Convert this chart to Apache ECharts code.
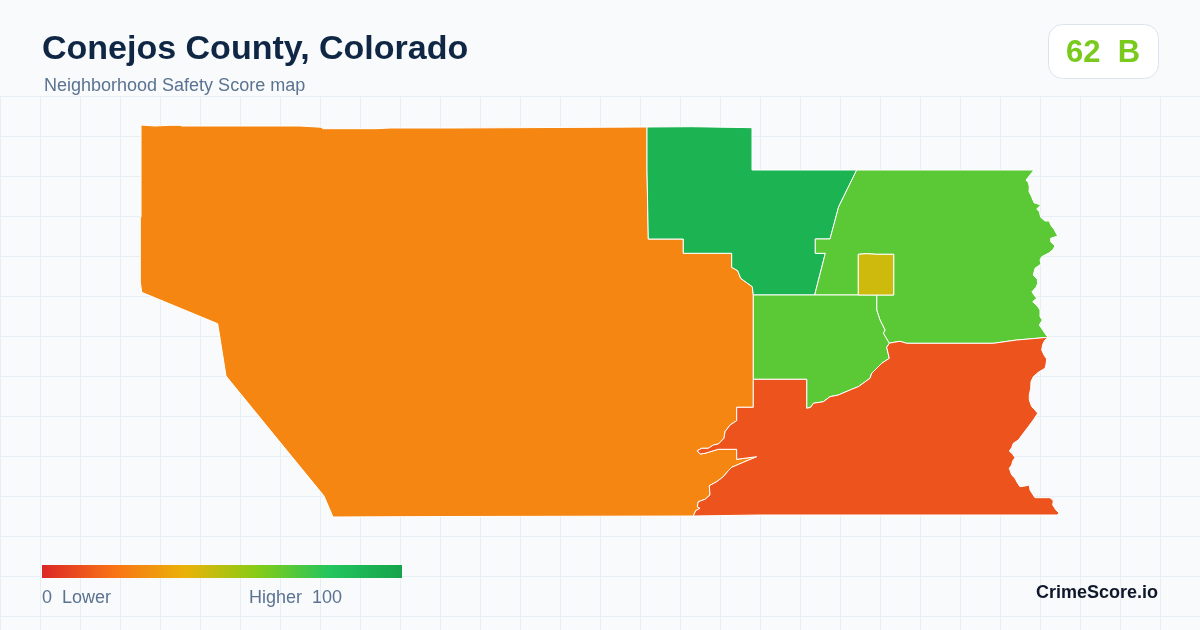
<!DOCTYPE html>
<html><head><meta charset="utf-8">
<style>
html,body{margin:0;padding:0;width:1200px;height:630px;overflow:hidden;background:#f8fafc}
#grid{position:absolute;left:0;top:96px;width:1200px;height:534px;
background-image:linear-gradient(to right,#e8eff4 1px,transparent 1px),linear-gradient(to bottom,#e8eff4 1px,transparent 1px);
background-size:40px 40px}
#chart{position:absolute;left:0;top:0;width:1200px;height:630px}
</style>
<script src="https://cdn.jsdelivr.net/npm/echarts@6/dist/echarts.min.js"></script>
</head><body><div id="grid"></div><div id="chart"></div>
<script>
const titleText = "Conejos County, Colorado";
const subtitleText = "Neighborhood Safety Score map";
const badgeText = "62  B";
const brandText = "CrimeScore.io";
const legendLow = "0  Lower";
const legendHigh = "Higher  100";
const scaleColors = ["#dc2626","#f97316","#eab308","#84cc16","#22c55e","#16a34a"];

const regionNames = ["West","North","NorthEast","Center","South","Enclave"];
const regionScores = [26, 90.6, 68.6, 68.6, 11.7, 45.7];

// boundary pieces, in map units
const orangeOuter = [[693.3,516],[450,516.5],[450,517],[333,517],[324,496],[226,376],[217.7,323.7],[141.7,292.3],[140.3,281.7],[140.3,218.3],[141,216.7],[141,125],[155,126],[170,125.3],[180,125.3],[181.7,126],[300,126],[321.7,127.3],[322.7,128.7],[376,128.7],[390,128],[455,128],[455,127.3],[647,127]];
const orangeGreen = [[647,127],[647,170],[647.7,206.7],[648.3,239],[683.3,239],[683.3,253.3],[731.7,253.3],[731.7,267.3],[737.7,270.7],[740.7,278.3],[746.7,282.7],[752.3,286.7],[753.3,295]];
const orangeLime = [[753.3,295],[753.3,379.3]];
const orangeRed = [[753.3,379.3],[753.3,407.3],[736.7,407.3],[736.7,420.7],[730,425],[725,431.7],[724,438.3],[718.3,444],[713.3,445],[708.3,448.3],[701.7,448.3],[697.3,450.7],[700,454],[705,453.3],[718.3,449.3],[736.7,449.3],[736.7,459.3],[756.7,456.7],[743.3,462.3],[731.7,467.3],[728.3,470.7],[723.3,476.7],[716.7,481.7],[709.3,485.7],[710,495],[705,499.3],[698.3,501.7],[697.3,506.7],[700,508.3],[695.7,510.7],[693.3,516]];
const greenOuter = [[647,127],[691.7,126.7],[692,127.7],[752,127.7],[752,170],[856.7,170]];
const greenEast = [[856.7,170],[838.7,206.7],[830,239],[815.3,239],[815.3,253.3],[825.3,253.3],[814.7,295]];
const greenCenter = [[814.7,295],[753.3,295]];
const eastOuter = [[856.7,170],[1034,170],[1031.7,172.7],[1029.3,176],[1026,180],[1028.3,182.7],[1029.3,186.7],[1029,191.7],[1031.3,196],[1034,202.7],[1040.7,205],[1036.7,209],[1039.3,211.7],[1040.7,217.3],[1045,221],[1049.3,221],[1050.7,225],[1054,229.3],[1057.7,236],[1050.7,238.3],[1050.7,241.7],[1055,246],[1052.7,250],[1048.3,253.3],[1041.7,256.7],[1040,260],[1041,264],[1035,268.3],[1033.3,275],[1037.3,279.3],[1037.7,283.3],[1036,287.3],[1032,291.7],[1034,295],[1036.7,298.3],[1032.7,301.7],[1037.3,306],[1040,310],[1040,316.7],[1042.3,320],[1039.3,325],[1042.7,330],[1046,335],[1048.3,337.3]];
const eastRed = [[1048.3,337.3],[1016.7,340],[993.3,343.3],[906.7,343.3],[900,341.3],[891.7,342.7],[889.3,343.3]];
const eastCenter = [[889.3,343.3],[883.3,333.3],[885,330],[880,320],[876.7,310],[876.7,295]];
const enclaveBase = [[876.7,295],[893.7,295]];
const enclaveRest = [[893.7,295],[893.7,254.3],[876.7,254.3],[876,253.7],[866.7,253.7],[858.3,254.3],[858.3,295]];
const enclaveWest = [[858.3,295],[814.7,295]];
const enclaveGap = [[858.3,295],[876.7,295]];
const centerRed = [[889.3,343.3],[886.7,347.3],[889.3,358.3],[881.7,363.3],[871.7,373.3],[870,378.3],[858.3,386.7],[851.7,389.3],[838.3,395],[830,396.7],[823.3,401.7],[813.3,403.3],[810.7,407.3],[806.7,408.3],[806.7,379.3],[753.3,379.3]];
const redEast = [[1048.3,337.3],[1045,340],[1042.7,344.3],[1041.7,350],[1044,355],[1046.7,359],[1046,364.3],[1045,368.3],[1038.3,372.3],[1033.3,376.7],[1031,381.7],[1030.7,388.3],[1029.3,395],[1029.3,400],[1031.7,406.7],[1035,410],[1037.7,413.3],[1033.3,420],[1028.3,426.7],[1023.3,433.3],[1018.3,440],[1013.3,443.3],[1011.7,447.7],[1009.3,451],[1012.7,454.3],[1015,457.7],[1012.7,461],[1011.7,465],[1009.3,468.3],[1011.7,475],[1015,478.3],[1017.3,482.7],[1020,486.7],[1025,486],[1029.3,485],[1030,490],[1032.7,494.3],[1035,497.7],[1050,497.7],[1053.3,500.7],[1052.7,505],[1056,510],[1059.3,513.3],[1056.7,515],[759,515],[759,516],[693.3,516]];

const rev = a => a.slice().reverse();
const ring = (...parts) => { const r = parts.flat(); r.push(r[0]); return r; };
const regionRings = [
  ring(orangeOuter, orangeGreen, orangeLime, orangeRed),
  ring(greenOuter, greenEast, greenCenter, rev(orangeGreen)),
  ring(eastOuter, eastRed, eastCenter, enclaveBase, enclaveRest, enclaveWest, rev(greenEast)),
  ring(rev(greenCenter), enclaveGap, rev(eastCenter), centerRed),
  ring(rev(eastRed), redEast, rev(orangeRed), rev(centerRed)),
  ring(enclaveGap, enclaveBase, enclaveRest)
];

echarts.registerMap("conejos", {type:"FeatureCollection", features: regionNames.map((n,i)=>({
  type:"Feature", properties:{name:n}, geometry:{type:"Polygon", coordinates:[regionRings[i]]}
}))});

const font = "'Liberation Sans', Arial, sans-serif";
const chart = echarts.init(document.getElementById("chart"));
chart.setOption({
  animation:false,
  backgroundColor:"transparent",
  title:[
    {text:titleText,left:42,top:33,padding:0,textStyle:{fontFamily:font,fontSize:34,fontWeight:"bold",color:"#0f2744"}},
    {text:subtitleText,left:44,top:77,padding:0,textStyle:{fontFamily:font,fontSize:18,fontWeight:"normal",color:"#5b7390"}}
  ],
  visualMap:{
    type:"continuous",min:0,max:100,show:false,
    inRange:{color:scaleColors},seriesIndex:0
  },
  series:[{
    type:"map",map:"conejos",silent:true,roam:false,
    projection:{project:p=>p,unproject:p=>p},
    left:140.3,top:125,width:919,height:392,
    label:{show:false},
    itemStyle:{borderColor:"#ffffff",borderWidth:1},
    emphasis:{disabled:true},select:{disabled:true},
    data:regionNames.map((n,i)=>({name:n,value:regionScores[i]}))
  }],
  graphic:[
    {type:"rect",shape:{x:42,y:565,width:360,height:13},style:{fill:new echarts.graphic.LinearGradient(0,0,1,0,
      scaleColors.map((c,i)=>({offset:i/(scaleColors.length-1),color:c})))}},
    {type:"rect",shape:{x:1048.5,y:24.5,width:110,height:54,r:14},style:{fill:"#ffffff",stroke:"#dde3ec",lineWidth:1}},
    {type:"text",x:1103,y:53,style:{text:badgeText,fontFamily:font,fontSize:31,fontWeight:"bold",fill:"#7aca1d",align:"center",verticalAlign:"middle"}},
    {type:"text",x:42,y:598,style:{text:legendLow,fontFamily:font,fontSize:18,fill:"#5b7390",align:"left",verticalAlign:"middle"}},
    {type:"text",x:342,y:598,style:{text:legendHigh,fontFamily:font,fontSize:18,fill:"#5b7390",align:"right",verticalAlign:"middle"}},
    {type:"text",x:1158,y:593.5,style:{text:brandText,fontFamily:font,fontSize:18,fontWeight:"bold",fill:"#0f172a",align:"right",verticalAlign:"middle"}}
  ]
});
</script></body></html>
